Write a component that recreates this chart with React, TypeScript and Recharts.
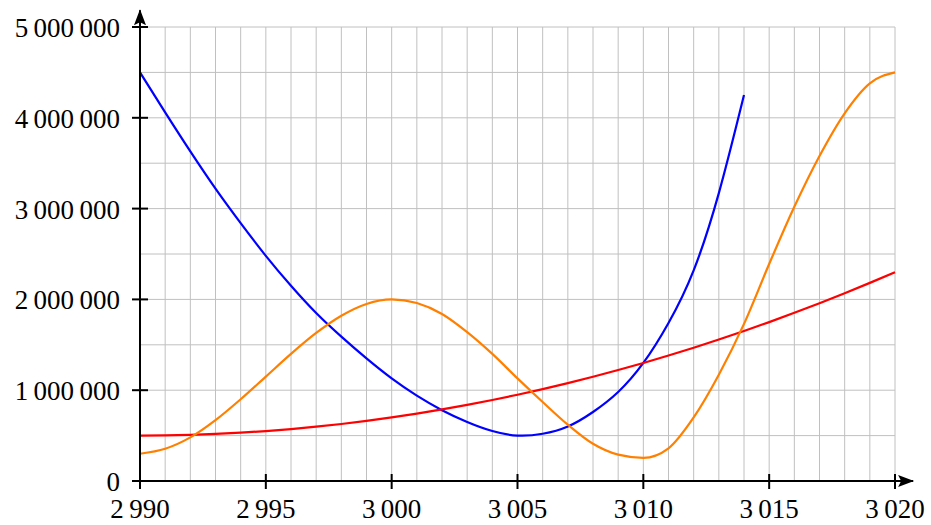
import {
  LineChart,
  Line,
  XAxis,
  YAxis,
  CartesianGrid,
  ReferenceLine,
} from "recharts";

const years = [
  2990, 2991, 2992, 2993, 2994, 2995, 2996, 2997, 2998, 2999, 3000, 3001, 3002, 3003, 3004, 3005,
  3006, 3007, 3008, 3009, 3010, 3011, 3012, 3013, 3014, 3015, 3016, 3017, 3018, 3019, 3020,
];

// millions (blue stops at 3014)
const blueValues = [
  4.5, 4.06, 3.63, 3.22, 2.84, 2.48, 2.15, 1.85, 1.59, 1.35, 1.13, 0.94, 0.78, 0.65, 0.55, 0.5,
  0.52, 0.6, 0.76, 0.98, 1.3, 1.74, 2.32, 3.17, 4.25,
];
const redValues = [
  0.5, 0.502, 0.508, 0.518, 0.532, 0.55, 0.572, 0.598, 0.628, 0.662, 0.7, 0.742, 0.788, 0.838,
  0.892, 0.95, 1.012, 1.078, 1.148, 1.222, 1.3, 1.382, 1.468, 1.558, 1.652, 1.75, 1.852, 1.958,
  2.068, 2.182, 2.3,
];
const orangeValues = [
  0.3, 0.355, 0.48, 0.67, 0.9, 1.15, 1.4, 1.63, 1.82, 1.95, 2.0, 1.96, 1.84, 1.64, 1.4, 1.13,
  0.87, 0.62, 0.41, 0.29, 0.255, 0.36, 0.7, 1.17, 1.73, 2.39, 3.02, 3.58, 4.05, 4.38, 4.5,
];

const xTicks = [2990, 2995, 3000, 3005, 3010, 3015, 3020];
const yTicks = [0, 1000000, 2000000, 3000000, 4000000, 5000000];
const yGrid = [0, 500000, 1000000, 1500000, 2000000, 2500000, 3000000, 3500000, 4000000, 4500000, 5000000];

const data = years.map((year, i) => ({
  year,
  blue: blueValues[i] !== undefined ? blueValues[i] * 1e6 : undefined,
  red: redValues[i] * 1e6,
  orange: orangeValues[i] * 1e6,
}));

const FONT = "'Liberation Serif', 'DejaVu Serif', serif";

const fmt = (v: number) => String(v).replace(/\B(?=(\d{3})+(?!\d))/g, "\u2009");

const renderXTick = ({ x, y, payload }: any) => (
  <g key={`x-${payload.value}`}>
    <line x1={x} x2={x} y1={y - 7} y2={y + 8} stroke="#000" strokeWidth={2} />
    <text x={x} y={y + 37} textAnchor="middle" fontFamily={FONT} fontSize={27} fill="#000">
      {fmt(payload.value)}
    </text>
  </g>
);

const renderYTick = ({ x, y, payload }: any) => (
  <g key={`y-${payload.value}`}>
    <line x1={x - 8} x2={x + 8} y1={y} y2={y} stroke="#000" strokeWidth={2} />
    <text x={x - 20} y={y + 10} textAnchor="end" fontFamily={FONT} fontSize={27} fill="#000">
      {fmt(payload.value)}
    </text>
  </g>
);

export default function App() {
  return (
    <div style={{ position: "absolute", left: 0, top: 0, background: "#fff" }}>
      <LineChart
        width={931}
        height={525}
        data={data}
        margin={{ top: 27, right: 36, bottom: 0, left: 0 }}
      >
        <defs>
          <marker
            id="arrowHead"
            markerUnits="userSpaceOnUse"
            markerWidth={16}
            markerHeight={12}
            refX={15}
            refY={6}
            orient="auto"
          >
            <path d="M0,0 L16,6 L0,12 L3,6 Z" fill="#000" />
          </marker>
        </defs>
        <CartesianGrid
          stroke="#c0c0c0"
          strokeWidth={1}
          verticalValues={years}
          horizontalValues={yGrid}
        />
        <XAxis
          dataKey="year"
          type="number"
          domain={[2990, 3020]}
          ticks={xTicks}
          height={44}
          axisLine={false}
          tickLine={false}
          tickSize={0}
          tickMargin={0}
          tick={renderXTick}
          interval={0}
        />
        <YAxis
          type="number"
          domain={[0, 5000000]}
          ticks={yTicks}
          width={140}
          axisLine={false}
          tickLine={false}
          tickSize={0}
          tickMargin={0}
          tick={renderYTick}
          interval={0}
        />
        <Line
          type="natural"
          dataKey="blue"
          stroke="#0000ff"
          strokeWidth={2.2}
          dot={false}
          isAnimationActive={false}
        />
        <Line
          type="natural"
          dataKey="red"
          stroke="#ff0000"
          strokeWidth={2.2}
          dot={false}
          isAnimationActive={false}
        />
        <Line
          type="monotone"
          dataKey="orange"
          stroke="#ff8000"
          strokeWidth={2.2}
          dot={false}
          isAnimationActive={false}
        />
        <ReferenceLine
          segment={[
            { x: 2990, y: 0 },
            { x: 3020.72, y: 0 },
          ]}
          ifOverflow="visible"
          stroke="#000"
          strokeWidth={2}
          markerEnd="url(#arrowHead)"
        />
        <ReferenceLine
          segment={[
            { x: 2990, y: 0 },
            { x: 2990, y: 5185000 },
          ]}
          ifOverflow="visible"
          stroke="#000"
          strokeWidth={2}
          markerEnd="url(#arrowHead)"
        />
      </LineChart>
    </div>
  );
}
